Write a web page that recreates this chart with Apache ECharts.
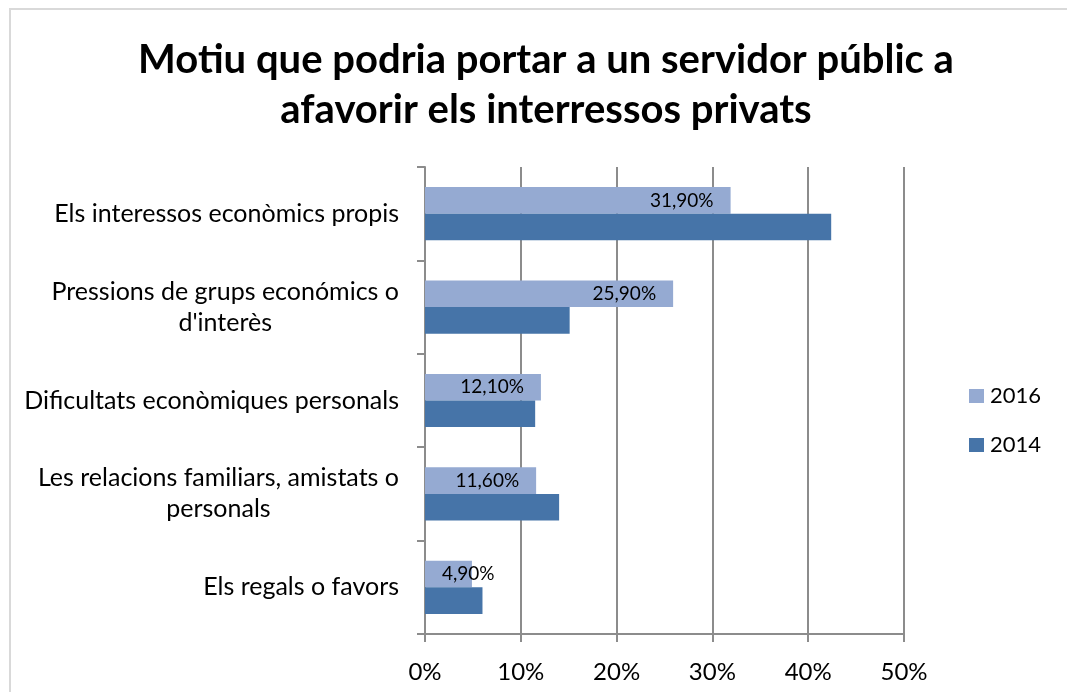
<!DOCTYPE html>
<html>
<head>
<meta charset="utf-8">
<script src="https://cdn.jsdelivr.net/npm/echarts@6/dist/echarts.min.js"></script>
<style>
html,body{margin:0;padding:0;background:#fff;}
#chart{width:1067px;height:692px;}
</style>
</head>
<body>
<div id="chart"></div>
<script>
const titleText = "Motiu que podria portar a un servidor públic a\nafavorir els interressos privats";
const categories = [
  "Els interessos econòmics propis",
  "Pressions de grups económics o\nd'interès",
  "Dificultats econòmiques personals",
  "Les relacions familiars, amistats o\npersonals",
  "Els regals o favors"
];
const seriesNames = ["2016", "2014"];
const values2016 = [31.9, 25.9, 12.1, 11.6, 4.9];
const values2014 = [42.4, 15.1, 11.5, 14.0, 6.0];
const xTickValues = [0, 10, 20, 30, 40, 50];
const xTickLabels = ["0%", "10%", "20%", "30%", "40%", "50%"];

const FONT = "Lato";
const colLight = "#95AAD2";
const colDark = "#4674A8";
const gridCol = "#8c8c8c";

const chart = echarts.init(document.getElementById('chart'), null, {renderer: 'canvas'});

function fmtPct(v) { return v.toFixed(2).replace('.', ',') + '%'; }

const data2016 = values2016.map(v => {
  const item = {value: v};
  if (v < 8) item.label = {position: 'insideLeft', distance: 17};
  return item;
});

const option = {
  backgroundColor: '#ffffff',
  animation: false,
  graphic: [{
    type: 'rect',
    shape: {x: 10, y: 9, width: 1120, height: 720},
    style: {fill: 'none', stroke: '#d9d9d9', lineWidth: 2},
    silent: true, z: -1
  }],
  title: {
    text: titleText,
    left: 541,
    textAlign: 'center',
    top: 30,
    textStyle: {fontFamily: FONT, fontWeight: 'bold', fontSize: 40, lineHeight: 50, color: '#000'}
  },
  legend: {
    orient: 'vertical',
    left: 964,
    top: 380,
    itemWidth: 15,
    itemHeight: 14,
    itemGap: 27,
    icon: 'rect',
    data: seriesNames,
    textStyle: {fontFamily: FONT, fontSize: 22, color: '#000', padding: [0, 0, 0, 1]}
  },
  grid: {left: 425, right: 163, top: 167, bottom: 58, containLabel: false},
  xAxis: {
    type: 'value',
    min: 0, max: 50, interval: 10,
    axisLine: {show: true, lineStyle: {color: gridCol, width: 2}},
    axisTick: {show: true, length: 8, lineStyle: {color: gridCol, width: 2}},
    splitLine: {show: true, lineStyle: {color: gridCol, width: 2}},
    axisLabel: {
      margin: 26,
      fontFamily: FONT, fontSize: 24, color: '#000',
      formatter: v => xTickLabels[xTickValues.indexOf(v)]
    }
  },
  yAxis: {
    type: 'category',
    inverse: true,
    data: categories,
    axisLine: {show: true, lineStyle: {color: gridCol, width: 2}},
    axisTick: {show: true, length: 8, alignWithLabel: false, lineStyle: {color: gridCol, width: 2}},
    splitLine: {show: false},
    axisLabel: {
      margin: 26,
      fontFamily: FONT, fontSize: 25, color: '#000', lineHeight: 31,
      formatter: v => v.split('\n').map(l => '{c|' + l + '}').join('\n'),
      rich: {c: {align: 'center', fontFamily: FONT, fontSize: 25, color: '#000', lineHeight: 31}}
    }
  },
  series: [
    {
      name: seriesNames[0], type: 'bar', data: data2016,
      barGap: '0%', barCategoryGap: '43%',
      itemStyle: {color: colLight},
      label: {
        show: true, position: 'insideRight', distance: 17,
        fontFamily: FONT, fontSize: 19, color: '#000',
        formatter: p => fmtPct(p.value)
      }
    },
    {
      name: seriesNames[1], type: 'bar', data: values2014,
      barGap: '0%', barCategoryGap: '43%',
      itemStyle: {color: colDark}
    }
  ]
};
chart.setOption(option);
</script>
</body>
</html>
